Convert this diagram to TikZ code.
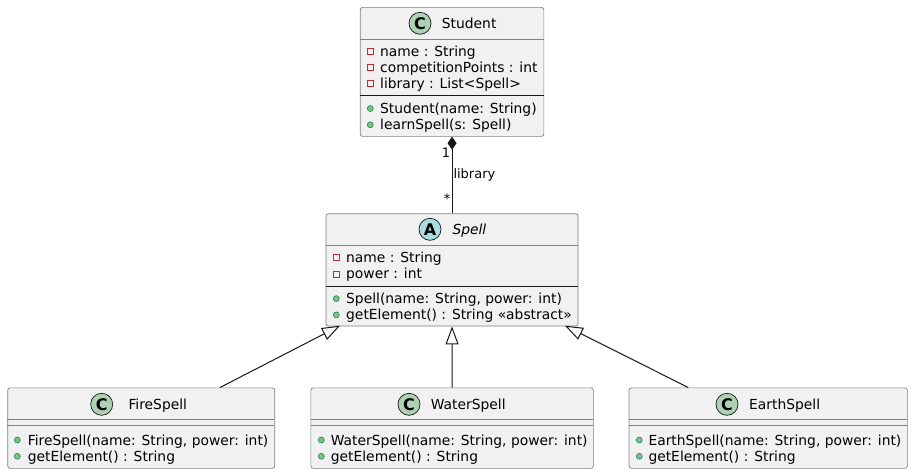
\documentclass[tikz,border=0pt]{standalone}
\usepackage{fontspec}
\setmainfont{DejaVu Sans}
\usetikzlibrary{arrows.meta}
\definecolor{boxfill}{HTML}{F1F1F1}
\definecolor{boxline}{HTML}{181818}
\definecolor{classcirc}{HTML}{ADD1B2}
\definecolor{abscirc}{HTML}{A9DCDF}
\definecolor{privred}{HTML}{C82930}
\definecolor{pubgreen}{HTML}{84BE84}
\definecolor{publine}{HTML}{038048}
\begin{document}
\begin{tikzpicture}[x=1pt,y=-1pt,
  umlbox/.style={draw=boxline!55, line width=0.7pt, fill=boxfill, rounded corners=2.5pt, anchor=north west, inner sep=0pt},
  hline/.style={draw=boxline!55, line width=0.7pt},
  sepline/.style={draw=boxline, line width=1pt},
  member/.style={anchor=base west, inner sep=0pt, font=\fontsize{13.85}{16}\selectfont},
  titletext/.style={anchor=base west, inner sep=0pt, font=\fontsize{13.85}{16}\selectfont},
  circ/.style={circle, draw=boxline, line width=0.7pt, minimum size=22pt, inner sep=0pt, font=\fontsize{16}{16}\bfseries},
  privicon/.style={draw=privred, line width=0.8pt, fill=none, minimum size=6pt, inner sep=0pt},
  pubicon/.style={circle, draw=publine, fill=pubgreen, line width=0.5pt, minimum size=6pt, inner sep=0pt},
  lbl/.style={inner sep=0pt, font=\fontsize{13}{15}\selectfont},
  conn/.style={draw=boxline, line width=1pt},
  inherit/.style={conn, -{Triangle[open, length=18pt, width=13pt, line width=1pt]}},
]
\fill[white] (0,0) rectangle (913,474);
\useasboundingbox (0,0) rectangle (913,474);

% ---------- Student ----------
\node[umlbox, minimum width=183.6pt, minimum height=129pt] (student) at (359.9,7) {};
\draw[hline] (359.9,39.3) -- (543.5,39.3);
\draw[sepline] (359.9,95.7) -- (543.5,95.7);
\node[circ, fill=classcirc] (studentC) at (420,23.3) {C};
\node[titletext] (studentT) at (441.7,28.5) {Student};
\node[privicon] (sp1) at (370.3,51.6) {};
\node[member] (sa1) at (380,56.6) {name : String};
\node[privicon] (sp2) at (370.3,67.5) {};
\node[member] (sa2) at (380,72.5) {competitionPoints : int};
\node[privicon] (sp3) at (370.3,83.4) {};
\node[member] (sa3) at (380,88.4) {library : List<Spell>};
\node[pubicon] (sm1i) at (370.3,108.5) {};
\node[member] (sm1) at (380,113.5) {Student(name: String)};
\node[pubicon] (sm2i) at (370.3,124.8) {};
\node[member] (sm2) at (380,129.8) {learnSpell(s: Spell)};

% ---------- Spell ----------
\node[umlbox, minimum width=252pt, minimum height=112.4pt] (spell) at (325.7,213.3) {};
\draw[hline] (325.7,245.7) -- (577.7,245.7);
\draw[sepline] (325.7,286.7) -- (577.7,286.7);
\node[circ, fill=abscirc] (spellA) at (430,229.3) {A};
\node[titletext, font=\fontsize{13.85}{16}\itshape] (spellT) at (452.3,234.5) {Spell};
\node[privicon] (pp1) at (336.3,257.6) {};
\node[member] (pa1) at (346,262.6) {name : String};
\node[privicon] (pp2) at (336.3,273.9) {};
\node[member] (pa2) at (346,278.9) {power : int};
\node[pubicon] (pm1i) at (336.3,298.6) {};
\node[member] (pm1) at (346,303.6) {Spell(name: String, power: int)};
\node[pubicon] (pm2i) at (336.3,314.9) {};
\node[member] (pm2) at (346,319.9) {getElement() : String «abstract»};

% ---------- FireSpell ----------
\node[umlbox, minimum width=267pt, minimum height=80.5pt] (fire) at (7.3,387.5) {};
\draw[hline] (7.3,419.3) -- (274.3,419.3);
\draw[hline] (7.3,425.7) -- (274.3,425.7);
\node[circ, fill=classcirc] (fireC) at (101.7,404.3) {C};
\node[titletext] (fireT) at (128.3,409.5) {FireSpell};
\node[pubicon] (fm1i) at (17.3,440) {};
\node[member] (fm1) at (27.7,445) {FireSpell(name: String, power: int)};
\node[pubicon] (fm2i) at (17.3,456.3) {};
\node[member] (fm2) at (27.7,461.3) {getElement() : String};

% ---------- WaterSpell ----------
\node[umlbox, minimum width=282.5pt, minimum height=80.5pt] (water) at (310.5,387.5) {};
\draw[hline] (310.5,419.3) -- (593,419.3);
\draw[hline] (310.5,425.7) -- (593,425.7);
\node[circ, fill=classcirc] (waterC) at (409,404.3) {C};
\node[titletext] (waterT) at (430.7,409.5) {WaterSpell};
\node[pubicon] (wm1i) at (321.3,440) {};
\node[member] (wm1) at (330.7,445) {WaterSpell(name: String, power: int)};
\node[pubicon] (wm2i) at (321.3,456.3) {};
\node[member] (wm2) at (330.7,461.3) {getElement() : String};

% ---------- EarthSpell ----------
\node[umlbox, minimum width=278.3pt, minimum height=80.5pt] (earth) at (628.7,387.5) {};
\draw[hline] (628.7,419.3) -- (907,419.3);
\draw[hline] (628.7,425.7) -- (907,425.7);
\node[circ, fill=classcirc] (earthC) at (727,404.3) {C};
\node[titletext] (earthT) at (749,409.5) {EarthSpell};
\node[pubicon] (em1i) at (639.3,440) {};
\node[member] (em1) at (648.3,445) {EarthSpell(name: String, power: int)};
\node[pubicon] (em2i) at (639.3,456.3) {};
\node[member] (em2) at (648.3,461.3) {getElement() : String};

% ---------- connectors ----------
\draw[conn, -{Diamond[length=13pt, width=9pt, fill=boxline]}] (spell.north) -- (student.south);
\node[lbl, anchor=base east] (mult1) at (450.3,157) {1};
\node[lbl, anchor=base west] (libl) at (453.3,178.5) {library};
\node[lbl, anchor=base east] (multS) at (450.5,203.5) {*};

\coordinate (fireTop) at (220,387.5);
\coordinate (fireTip) at (340,325.7);
\coordinate (earthTop) at (688.3,387.5);
\coordinate (earthTip) at (565,325.7);
\draw[inherit] (fireTop) -- (fireTip);
\draw[inherit] (water.north) -- (spell.south);
\draw[inherit] (earthTop) -- (earthTip);
\end{tikzpicture}
\end{document}
